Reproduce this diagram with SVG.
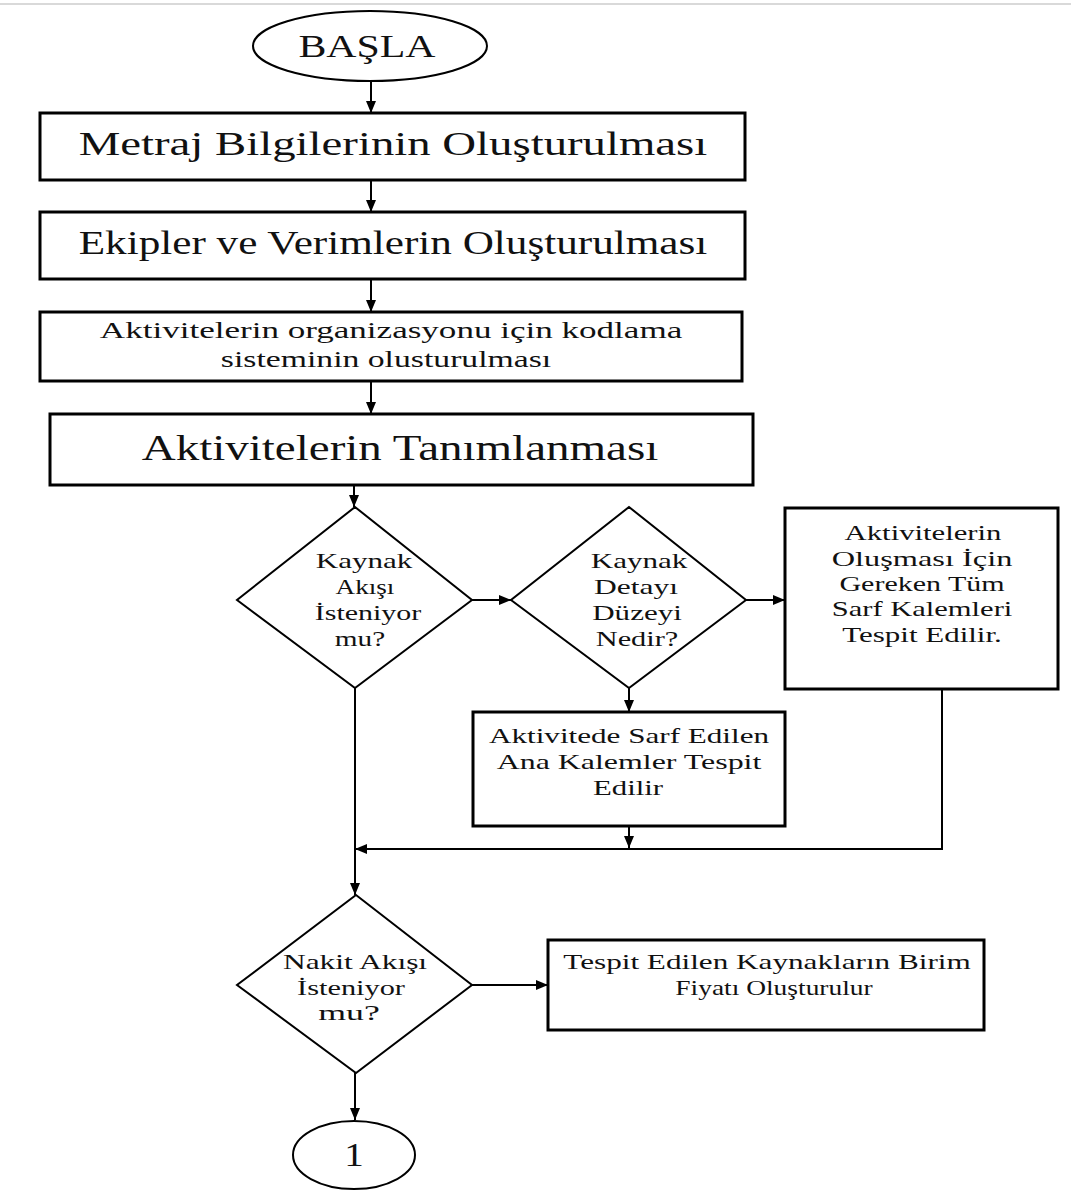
<svg xmlns="http://www.w3.org/2000/svg" width="1071" height="1191" viewBox="0 0 1071 1191">
  <style>
    .bg { fill: #ffffff; }
    .box { fill: #ffffff; stroke: #000000; stroke-width: 3; }
    .shape { fill: #ffffff; stroke: #000000; stroke-width: 2; }
    .wire { fill: none; stroke: #000000; stroke-width: 2; }
    text { font-family: "Liberation Serif", "Times New Roman", serif; fill: #111111; text-anchor: middle; }
    .big { font-size: 33px; }
    .mid { font-size: 24px; }
    .sm { font-size: 22px; }
  </style>
  <defs>
    <marker id="arrow" markerUnits="userSpaceOnUse" markerWidth="12" markerHeight="12" viewBox="0 0 12 12" refX="12" refY="6" orient="auto">
      <path d="M0,1 L12,6 L0,11 Z" fill="#000000"/>
    </marker>
  </defs>

  <rect class="bg" x="0" y="0" width="1071" height="1191"/>
  <line x1="0" y1="4" x2="1071" y2="4" stroke="#d9d9d9" stroke-width="2"/>

  <!-- connectors -->
  <g id="connectors">
    <line class="wire" x1="371" y1="81" x2="371" y2="113" marker-end="url(#arrow)"/>
    <line class="wire" x1="371" y1="180" x2="371" y2="212" marker-end="url(#arrow)"/>
    <line class="wire" x1="371" y1="279" x2="371" y2="312" marker-end="url(#arrow)"/>
    <line class="wire" x1="371" y1="381" x2="371" y2="414" marker-end="url(#arrow)"/>
    <line class="wire" x1="354" y1="485" x2="354" y2="507" marker-end="url(#arrow)"/>
    <line class="wire" x1="472" y1="600" x2="511" y2="600" marker-end="url(#arrow)"/>
    <line class="wire" x1="746" y1="600" x2="785" y2="600" marker-end="url(#arrow)"/>
    <line class="wire" x1="629" y1="688" x2="629" y2="712" marker-end="url(#arrow)"/>
    <line class="wire" x1="629" y1="826" x2="629" y2="848" marker-end="url(#arrow)"/>
    <polyline class="wire" points="942,690 942,849 355,849" marker-end="url(#arrow)"/>
    <line class="wire" x1="355" y1="688" x2="355" y2="895" marker-end="url(#arrow)"/>
    <line class="wire" x1="472" y1="985" x2="548" y2="985" marker-end="url(#arrow)"/>
    <line class="wire" x1="355" y1="1073" x2="355" y2="1120" marker-end="url(#arrow)"/>
  </g>

  <!-- every label is drawn 1.4x wider than tall, as in the printed chart -->
  <g id="start">
    <ellipse class="shape" cx="370" cy="46" rx="117" ry="35"/>
    <text transform="matrix(1.4 0 0 1 367 57)" font-size="31" textLength="98" lengthAdjust="spacingAndGlyphs">BAŞLA</text>
  </g>

  <g id="metraj">
    <rect class="box" x="40" y="113" width="705" height="67"/>
    <text class="big" transform="matrix(1.4 0 0 1 393 155)" textLength="449" lengthAdjust="spacingAndGlyphs">Metraj Bilgilerinin Oluşturulması</text>
  </g>

  <g id="ekipler">
    <rect class="box" x="40" y="212" width="705" height="67"/>
    <text class="big" transform="matrix(1.4 0 0 1 393 254)" textLength="449" lengthAdjust="spacingAndGlyphs">Ekipler ve Verimlerin Oluşturulması</text>
  </g>

  <g id="kodlama">
    <rect class="box" x="40" y="312" width="702" height="69"/>
    <text class="mid" transform="matrix(1.4 0 0 1 391 338)" textLength="416" lengthAdjust="spacingAndGlyphs">Aktivitelerin organizasyonu için kodlama</text>
    <text class="mid" transform="matrix(1.4 0 0 1 386 367)" textLength="236" lengthAdjust="spacingAndGlyphs">sisteminin olusturulması</text>
  </g>

  <g id="tanimlama">
    <rect class="box" x="50" y="414" width="703" height="71"/>
    <text transform="matrix(1.4 0 0 1 400 460)" font-size="35" textLength="369" lengthAdjust="spacingAndGlyphs">Aktivitelerin Tanımlanması</text>
  </g>

  <g id="kaynak-akisi">
    <polygon class="shape" points="355,507 472,600 355,688 237,600"/>
    <text class="sm" transform="matrix(1.4 0 0 1 364 568)" textLength="69" lengthAdjust="spacingAndGlyphs">Kaynak</text>
    <text class="sm" transform="matrix(1.4 0 0 1 365 594)" textLength="42" lengthAdjust="spacingAndGlyphs">Akışı</text>
    <text class="sm" transform="matrix(1.4 0 0 1 368 620)" textLength="76" lengthAdjust="spacingAndGlyphs">İsteniyor</text>
    <text class="sm" transform="matrix(1.4 0 0 1 360 646)" textLength="36" lengthAdjust="spacingAndGlyphs">mu?</text>
  </g>

  <g id="kaynak-detayi">
    <polygon class="shape" points="629,507 746,600 629,688 511,600"/>
    <text class="sm" transform="matrix(1.4 0 0 1 639 568)" textLength="69" lengthAdjust="spacingAndGlyphs">Kaynak</text>
    <text class="sm" transform="matrix(1.4 0 0 1 636 594)" textLength="60" lengthAdjust="spacingAndGlyphs">Detayı</text>
    <text class="sm" transform="matrix(1.4 0 0 1 637 620)" textLength="64" lengthAdjust="spacingAndGlyphs">Düzeyi</text>
    <text class="sm" transform="matrix(1.4 0 0 1 637 646)" textLength="59" lengthAdjust="spacingAndGlyphs">Nedir?</text>
  </g>

  <g id="sarf-kalemleri">
    <rect class="box" x="785" y="508" width="273" height="181"/>
    <text class="sm" transform="matrix(1.4 0 0 1 923 540)" textLength="112" lengthAdjust="spacingAndGlyphs">Aktivitelerin</text>
    <text class="sm" transform="matrix(1.4 0 0 1 922 566)" textLength="129" lengthAdjust="spacingAndGlyphs">Oluşması İçin</text>
    <text class="sm" transform="matrix(1.4 0 0 1 922 591)" textLength="118" lengthAdjust="spacingAndGlyphs">Gereken Tüm</text>
    <text class="sm" transform="matrix(1.4 0 0 1 922 616)" textLength="129" lengthAdjust="spacingAndGlyphs">Sarf Kalemleri</text>
    <text class="sm" transform="matrix(1.4 0 0 1 922 642)" textLength="114" lengthAdjust="spacingAndGlyphs">Tespit Edilir.</text>
  </g>

  <g id="ana-kalemler">
    <rect class="box" x="473" y="712" width="312" height="114"/>
    <text class="sm" transform="matrix(1.4 0 0 1 629 743)" textLength="200" lengthAdjust="spacingAndGlyphs">Aktivitede Sarf Edilen</text>
    <text class="sm" transform="matrix(1.4 0 0 1 629 769)" textLength="189" lengthAdjust="spacingAndGlyphs">Ana Kalemler Tespit</text>
    <text class="sm" transform="matrix(1.4 0 0 1 628 795)" textLength="50" lengthAdjust="spacingAndGlyphs">Edilir</text>
  </g>

  <g id="nakit-akisi">
    <polygon class="shape" points="356,895 472,985 356,1073 237,985"/>
    <text class="sm" transform="matrix(1.4 0 0 1 355 969)" textLength="103" lengthAdjust="spacingAndGlyphs">Nakit Akışı</text>
    <text class="sm" transform="matrix(1.4 0 0 1 351 995)" textLength="77" lengthAdjust="spacingAndGlyphs">İsteniyor</text>
    <text class="sm" transform="matrix(1.4 0 0 1 349 1020)" textLength="44" lengthAdjust="spacingAndGlyphs">mu?</text>
  </g>

  <g id="birim-fiyat">
    <rect class="box" x="548" y="940" width="436" height="90"/>
    <text class="sm" transform="matrix(1.4 0 0 1 767 969)" textLength="291" lengthAdjust="spacingAndGlyphs">Tespit Edilen Kaynakların Birim</text>
    <text class="sm" transform="matrix(1.4 0 0 1 774 995)" textLength="141" lengthAdjust="spacingAndGlyphs">Fiyatı Oluşturulur</text>
  </g>

  <g id="connector-1">
    <ellipse class="shape" cx="354" cy="1155" rx="61" ry="34"/>
    <text transform="matrix(1.4 0 0 1 354 1166)" font-size="34" textLength="14" lengthAdjust="spacingAndGlyphs">1</text>
  </g>
</svg>
